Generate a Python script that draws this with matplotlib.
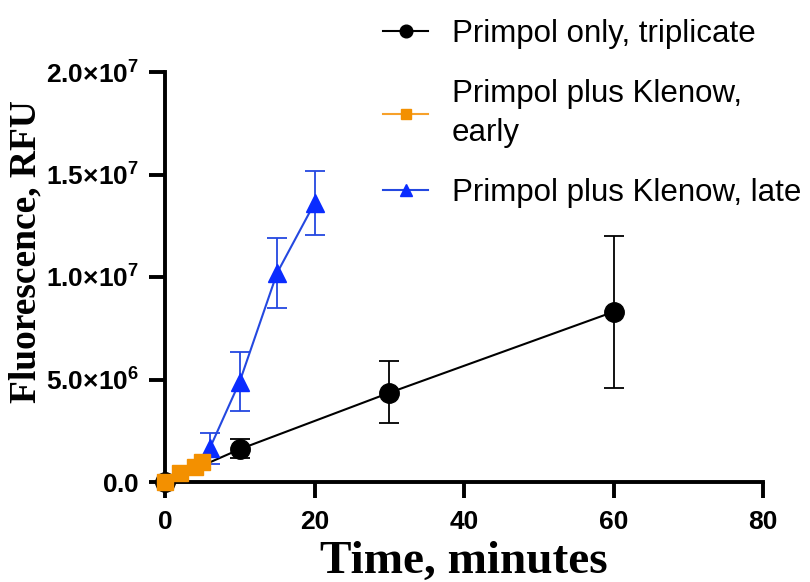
import matplotlib
matplotlib.use('Agg')
import matplotlib.pyplot as plt

plt.rcParams['mathtext.fontset'] = 'custom'
plt.rcParams['mathtext.rm'] = 'Liberation Sans'
plt.rcParams['mathtext.bf'] = 'Liberation Sans:bold'

# Primpol only, triplicate
t_black = [0, 10, 30, 60]
y_black = [0, 1.6e6, 4.35e6, 8.3e6]
e_black_lo = [0, 0.45e6, 1.47e6, 3.7e6]
e_black_hi = [0, 0.5e6, 1.55e6, 3.7e6]

# Primpol plus Klenow, early
t_orange = [0, 2, 4, 5]
y_orange = [0, 0.44e6, 0.73e6, 1.0e6]

# Primpol plus Klenow, late
t_blue = [6, 10, 15, 20]
y_blue = [1.65e6, 4.9e6, 10.2e6, 13.6e6]
e_blue = [0.75e6, 1.45e6, 1.7e6, 1.55e6]

labels = ['Primpol only, triplicate', 'Primpol plus Klenow,\nearly', 'Primpol plus Klenow, late']
yticks = [0, 5e6, 1e7, 1.5e7, 2e7]
ytick_labels = [r'$\mathbf{0.0}$', r'$\mathbf{5.0{\times}10^{6}}$', r'$\mathbf{1.0{\times}10^{7}}$',
                r'$\mathbf{1.5{\times}10^{7}}$', r'$\mathbf{2.0{\times}10^{7}}$']
xticks = [0, 20, 40, 60, 80]

sans = ['Liberation Sans', 'DejaVu Sans']
serif = ['Liberation Serif', 'DejaVu Serif']

fig = plt.figure(figsize=(8.1, 5.82), dpi=100)
ax = fig.add_axes([165 / 810, 1 - 482 / 582, (763 - 165) / 810, (482 - 72) / 582])

eb1 = ax.errorbar(t_black, y_black, yerr=[e_black_lo, e_black_hi], color='black', marker='o',
                  markersize=14, linewidth=1.5, capsize=7, elinewidth=1.3, capthick=1.3,
                  zorder=3, clip_on=False)
l2, = ax.plot(t_orange, y_orange, color='#f7a12a', marker='s', markersize=11, linewidth=1.5,
              markerfacecolor='#f39000', markeredgecolor='#f39000', zorder=4, clip_on=False)
eb3 = ax.errorbar(t_blue, y_blue, yerr=e_blue, color='#2448e0', marker='^', markersize=13,
                  markerfacecolor='#0a2cff', markeredgecolor='#0a2cff',
                  linewidth=1.5, capsize=7, elinewidth=1.3, capthick=1.3, zorder=3)

ax.set_xlim(0, 80)
ax.set_ylim(0, 2e7)
ax.set_xticks(xticks)
ax.set_yticks(yticks)
ax.set_yticklabels(ytick_labels)
for lab in ax.get_yticklabels() + ax.get_xticklabels():
    lab.set_fontfamily(sans)
    lab.set_fontweight('bold')
    lab.set_fontsize(19)

for s in ['top', 'right']:
    ax.spines[s].set_visible(False)
for s in ['left', 'bottom']:
    ax.spines[s].set_linewidth(2.8)
ax.tick_params(width=2.8, length=11.5, direction='out')
ax.tick_params(axis='y', pad=7)
ax.tick_params(axis='x', pad=9)

fig.text(464 / 810, 1 - 573 / 582, 'Time, minutes', ha='center', va='baseline',
         fontfamily=serif, fontweight='bold', fontsize=34)
fig.text(26 / 810, 1 - 252 / 582, 'Fluorescence, RFU', rotation=90, ha='center', va='center',
         fontfamily=serif, fontweight='bold', fontsize=27)

leg = ax.legend([eb1[0], l2, eb3[0]], labels, loc='upper left',
                bbox_to_anchor=(355 / 810, 1.015), bbox_transform=fig.transFigure,
                frameon=False, prop={'family': sans, 'size': 22.5}, handlelength=1.45,
                labelspacing=0.95, handletextpad=0.75, markerscale=0.65)
for txt in leg.get_texts():
    txt.set_linespacing(1.4)

fig.savefig('out.png', dpi=100)
